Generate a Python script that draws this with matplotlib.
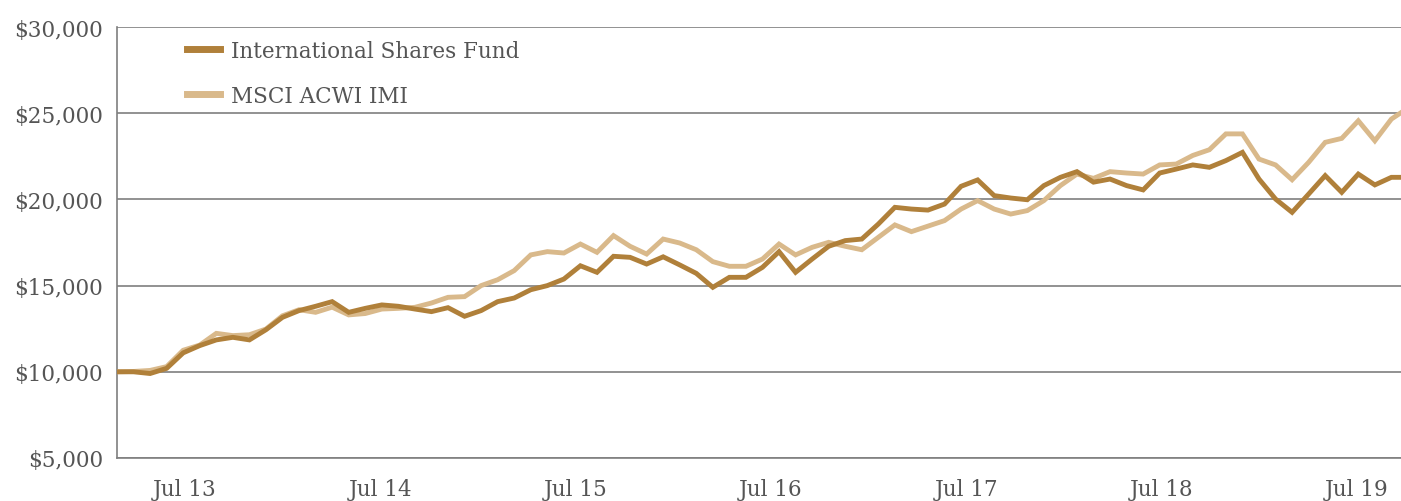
import matplotlib
matplotlib.use("Agg")
import matplotlib.pyplot as plt
from matplotlib.ticker import FuncFormatter, FixedLocator

# ---- data (growth of $10,000) ----
fund = [10000, 10000, 9900, 10200, 11100, 11520, 11850, 12000, 11850, 12440,
        13160, 13550, 13800, 14070, 13450, 13680, 13880, 13800, 13640, 13490,
        13720, 13220, 13550, 14070, 14280, 14760, 15000, 15380, 16150, 15770,
        16700, 16640, 16250, 16670, 16200, 15710, 14900, 15480, 15480, 16060,
        16970, 15770, 16540, 17280, 17610, 17700, 18570, 19540, 19440, 19380,
        19730, 20760, 21130, 20220, 20080, 19980, 20800, 21280, 21610, 21000,
        21180, 20800, 20550, 21530, 21760, 22000, 21860, 22250, 22730, 21180,
        20020, 19250, 20310, 21380, 20410, 21470, 20840, 21280, 21280]
msci = [10000, 10020, 10080, 10300, 11250, 11550, 12230, 12100, 12150, 12480,
        13250, 13600, 13450, 13750, 13300, 13380, 13640, 13680, 13740, 13990,
        14320, 14360, 15000, 15340, 15870, 16780, 16970, 16890, 17410, 16930,
        17900, 17280, 16830, 17700, 17470, 17080, 16390, 16120, 16120, 16540,
        17410, 16780, 17220, 17510, 17280, 17080, 17800, 18520, 18130, 18450,
        18770, 19440, 19930, 19440, 19150, 19350, 19930, 20800, 21470, 21220,
        21610, 21530, 21470, 22000, 22050, 22550, 22880, 23800, 23800, 22340,
        22000, 21140, 22150, 23310, 23540, 24560, 23400, 24660, 25300]
series_names = ["International Shares Fund", "MSCI ACWI IMI"]
tick_labels = ["Jul 13", "Jul 14", "Jul 15", "Jul 16", "Jul 17", "Jul 18", "Jul 19"]
y_ticks = [5000, 10000, 15000, 20000, 25000, 30000]

# layout constants (in data-index units)
first_label_pos = 4.11
label_step = 11.8
x_right = 77.58

c_fund = "#B0803A"
c_msci = "#D9B98B"
txt = "#555555"
grid_c = "#7f7f7f"

plt.rcParams["font.family"] = ["DejaVu Serif"]

fig = plt.figure(figsize=(14.01, 5.02), dpi=100)
ax = fig.add_axes([117 / 1401, 43 / 502, 1 - 117 / 1401, 431 / 502])

x = list(range(len(fund)))
ax.plot(x, msci, color=c_msci, lw=3.5, label=series_names[1], solid_joinstyle="miter", zorder=3)
ax.plot(x, fund, color=c_fund, lw=3.5, label=series_names[0], solid_joinstyle="miter", zorder=4)

ax.set_xlim(0, x_right)
ax.set_ylim(5000, 30000)
ax.yaxis.set_major_locator(FixedLocator(y_ticks))
ax.yaxis.set_major_formatter(FuncFormatter(lambda v, p: "${:,.0f}".format(v)))
ax.set_xticks([first_label_pos + label_step * k for k in range(len(tick_labels))])
ax.set_xticklabels(tick_labels)

ax.grid(axis="y", color=grid_c, lw=1.2)
ax.set_axisbelow(True)
for s in ["top", "right"]:
    ax.spines[s].set_visible(False)
ax.spines["left"].set_color(grid_c)
ax.spines["left"].set_linewidth(1.2)
ax.spines["bottom"].set_color(grid_c)
ax.spines["bottom"].set_linewidth(1.2)

ax.tick_params(axis="both", length=0, labelsize=15.5, colors=txt)
ax.tick_params(axis="y", pad=10)
ax.tick_params(axis="x", pad=14.5)

handles, labels = ax.get_legend_handles_labels()
leg = ax.legend(handles[::-1], labels[::-1], loc="upper left", bbox_to_anchor=(0.0545, 0.97),
                frameon=False, fontsize=15.5, handlelength=1.55, handletextpad=0.5,
                labelspacing=1.05, borderpad=0, borderaxespad=0)
for t in leg.get_texts():
    t.set_color(txt)
for h in leg.get_lines():
    h.set_linewidth(5)

fig.savefig("out.png", dpi=100)
